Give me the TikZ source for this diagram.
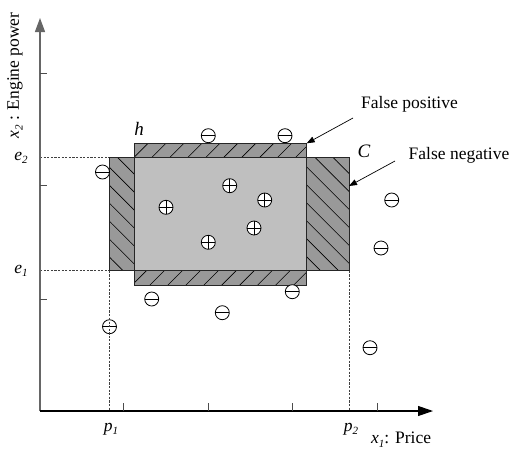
\documentclass[tikz,border=0pt]{standalone}
\usepackage{fontspec}
\setmainfont{Liberation Serif}
\usetikzlibrary{patterns.meta,arrows.meta}
\newcommand{\lbl}{\fontsize{17.5}{20}\selectfont}
\newcommand{\sbs}[1]{\raisebox{-0.45ex}{\fontsize{11}{11}\selectfont\itshape #1}}
\begin{document}
\begin{tikzpicture}[x=1pt,y=-1pt,
  darkband/.style={fill=black!40},
  fphatch/.style={pattern={Lines[angle=45,distance=12.7pt,line width=0.6pt]},pattern color=black},
  fnhatch/.style={pattern={Lines[angle=-45,distance=12.7pt,line width=0.6pt]},pattern color=black},
  inner/.style={fill=black!25},
  boxline/.style={draw=black!85,line width=1pt},
  token/.style={circle,draw=black,fill=white,line width=0.8pt,minimum size=14pt,inner sep=0pt},
  neg/.style={token,path picture={\draw[line width=0.8pt] (path picture bounding box.west) -- (path picture bounding box.east);}},
  posi/.style={token,path picture={\draw[line width=0.8pt] (path picture bounding box.west) -- (path picture bounding box.east) (path picture bounding box.north) -- (path picture bounding box.south);}},
  guide/.style={draw=black!75,line width=0.6pt,dash pattern=on 2.2pt off 1.4pt},
  callout/.style={draw=black,line width=0.7pt,-{Triangle[length=8pt,width=6pt]}},
  tick/.style={draw=black!70,line width=1pt},
  txt/.style={inner sep=0pt,font=\lbl}
]
\useasboundingbox (0,0) rectangle (516,453);

% regions
\coordinate (hTL) at (134,143.3);
\coordinate (hBR) at (306.7,285);
\coordinate (cTL) at (109.3,157.7);
\coordinate (cBR) at (349,270.7);

\fill[darkband] (134,143.3) rectangle (306.7,157.7);
\fill[darkband] (134,270.7) rectangle (306.7,285);
\fill[darkband] (109.3,157.7) rectangle (134,270.7);
\fill[darkband] (306.7,157.7) rectangle (349,270.7);
\path[fphatch] (134,143.3) rectangle (306.7,157.7);
\path[fphatch] (134,270.7) rectangle (306.7,285);
\path[fnhatch] (109.3,157.7) rectangle (134,270.7);
\path[fnhatch] (306.7,157.7) rectangle (349,270.7);
\fill[inner] (134,157.7) rectangle (306.7,270.7);
\draw[boxline] (hTL) rectangle (hBR);
\draw[boxline] (cTL) rectangle (cBR);

% guides
\draw[guide] (40,157.7) -- (cTL);
\draw[guide] (40,270.7) -- (109.3,270.7);
\draw[guide] (109.3,270.7) -- (109.3,411);
\draw[guide] (cBR) -- (349,411);

% tokens
\node[neg] (n1) at (208.3,135.7) {};
\node[neg] (n2) at (285,135.7) {};
\node[neg] (n3) at (102.5,172) {};
\node[neg] (n4) at (391.7,200) {};
\node[neg] (n5) at (381,248) {};
\node[neg] (n6) at (151.7,299) {};
\node[neg] (n7) at (292.3,291.7) {};
\node[neg] (n8) at (222.3,312.7) {};
\node[neg] (n9) at (109.5,326.7) {};
\node[neg] (n10) at (370,347.7) {};
\node[posi] (q1) at (166,207.3) {};
\node[posi] (q2) at (229.7,185.7) {};
\node[posi] (q3) at (264.7,200) {};
\node[posi] (q4) at (254,228) {};
\node[posi] (q5) at (208.3,242.3) {};
\draw[guide] (109.3,318) -- (109.3,336);

% axes
\coordinate (O) at (40,411);
\coordinate (ytop) at (40,18);
\coordinate (xend) at (433,411);
\draw[draw=black!60,line width=1.3pt,-{Triangle[length=14pt,width=10pt]}] (O) -- (ytop);
\draw[draw=black,line width=1.1pt,-{Triangle[length=15pt,width=10pt]}] (O) -- (xend);
\foreach \y in {73,185.7,299} \draw[tick] (40,\y) -- (47,\y);
\foreach \x in {123,208,292,377} \draw[tick] (\x,411) -- (\x,403);

% labels
\node[txt] (e2) at (21,158) {\itshape e\sbs{2}};
\node[txt] (e1) at (21,271) {\itshape e\sbs{1}};
\node[txt] (p1) at (111,429) {\itshape p\sbs{1}};
\node[txt] (p2) at (351,429) {\itshape p\sbs{2}};
\node[txt,anchor=west] (xl) at (371,440) {\itshape x\sbs{1}\upshape: Price};
\node[txt,rotate=90] (yl) at (15,75.5) {\itshape x\sbs{2}\upshape\ : Engine power};
\node[txt,font=\fontsize{19}{21}\selectfont\itshape] (hl) at (139,129) {h};
\node[txt,font=\fontsize{19}{21}\selectfont\itshape] (cl) at (364,151.5) {C};
\node[txt] (fp) at (409.5,104) {False positive};
\node[txt] (fn) at (459,155) {False negative};

\coordinate (fpS) at (353,118);
\coordinate (fnS) at (395,161);
\coordinate (hTR) at (306.7,143.3);
\coordinate (cR) at (349,186);
\draw[callout] (fpS) -- (hTR);
\draw[callout] (fnS) -- (cR);
\end{tikzpicture}
\end{document}
